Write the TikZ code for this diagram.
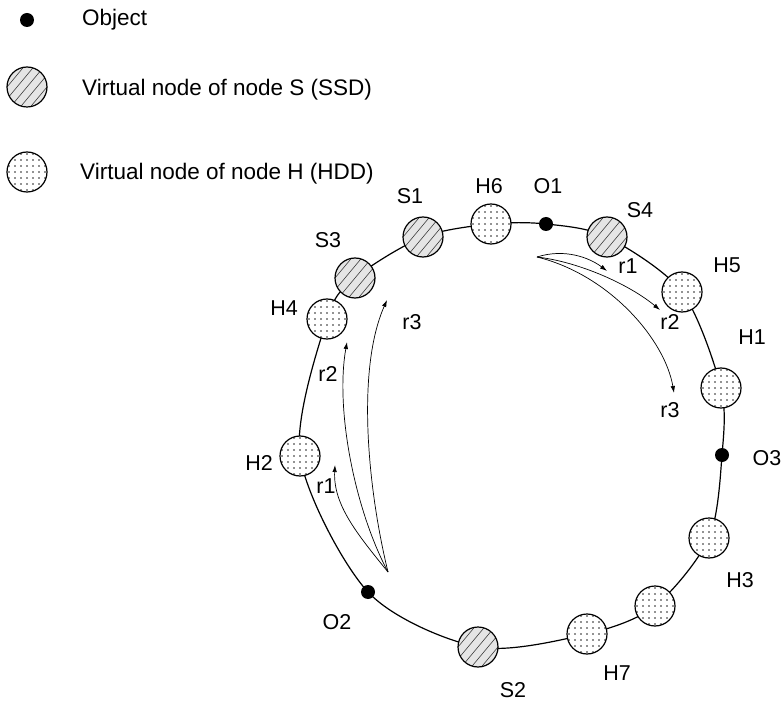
\documentclass[tikz,border=0pt]{standalone}
\usepackage{fontspec}
\setmainfont{Liberation Sans}
\usetikzlibrary{backgrounds,arrows.meta,calc}
\definecolor{ssdgray}{gray}{0.9}
\definecolor{hatchcol}{gray}{0.25}
\definecolor{dotcol}{gray}{0.15}
\begin{document}
\begin{tikzpicture}[x=1pt,y=-1pt,
  lab/.style={font=\fontsize{21.5}{25}\selectfont,inner sep=0pt},
  legtxt/.style={font=\fontsize{22.5}{26}\selectfont,inner sep=0pt,anchor=base west},
  ssd/.style={circle,draw,line width=1.2pt,fill=ssdgray,minimum size=40pt,inner sep=0pt,
    path picture={\foreach \k in {-4,...,4}{\draw[hatchcol,line width=0.6pt] ([xshift=\k*10pt]path picture bounding box.center) +(-20pt,-24pt) -- +(20pt,24pt);}}},
  hdd/.style={circle,draw,line width=1.2pt,fill=white,minimum size=40pt,inner sep=0pt,
    path picture={\foreach \i in {-4,...,4}{\foreach \j in {-4,...,4}{\fill[dotcol] ([shift={(\i*6pt,\j*6pt)}]path picture bounding box.center) circle[radius=0.85pt];}}}},
  obj/.style={circle,fill=black,minimum size=14pt,inner sep=0pt},
  ring/.style={line width=1.2pt},
  rarrow/.style={line width=0.7pt,-{Latex[length=7pt,width=4.5pt]}}
]
\useasboundingbox (0,0) rectangle (782,703);

% legend
\node[obj] (legobj) at (27,20) {};
\node[ssd] (legssd) at (27,87) {};
\node[hdd] (leghdd) at (27,172) {};
\node[legtxt] (legobjtxt) at (82,26) {Object};
\node[legtxt] (legssdtxt) at (82,96) {Virtual node of node S (SSD)};
\node[legtxt] (leghddtxt) at (80,180) {Virtual node of node H (HDD)};

% ring members
\node[hdd] (H6) at (491,224) {};
\node[obj] (O1) at (546,224) {};
\node[ssd] (S4) at (607,237) {};
\node[hdd] (H5) at (682,292) {};
\node[hdd] (H1) at (721,388) {};
\node[obj] (O3) at (722,455) {};
\node[hdd] (H3) at (709,538) {};
\node[hdd] (Hx) at (655,606) {};
\node[hdd] (H7) at (587,634) {};
\node[ssd] (S2) at (478,647) {};
\node[obj] (O2) at (368,592) {};
\node[hdd] (H2) at (300,456) {};
\node[hdd] (H4) at (327,319) {};
\node[ssd] (S3) at (355,278) {};
\node[ssd] (S1) at (423,237) {};

\begin{pgfonlayer}{background}
\draw[ring] plot[smooth cycle] coordinates {(H6.center) (O1.center) (S4.center) (H5.center) (H1.center) (O3.center) (H3.center) (Hx.center) (H7.center) (S2.center) (O2.center) (H2.center) (H4.center) (S3.center) (S1.center)};
\end{pgfonlayer}

% labels
\node[lab] (lS3) at (328,240) {S3};
\node[lab] (lS1) at (410,196) {S1};
\node[lab] (lH6) at (489,186) {H6};
\node[lab] (lO1) at (548,186) {O1};
\node[lab] (lS4) at (640,210) {S4};
\node[lab] (lH5) at (727,265) {H5};
\node[lab] (lH1) at (752,337) {H1};
\node[lab] (lO3) at (767,458) {O3};
\node[lab] (lH3) at (740,580) {H3};
\node[lab] (lH7) at (617,673) {H7};
\node[lab] (lS2) at (513,690) {S2};
\node[lab] (lO2) at (337,622) {O2};
\node[lab] (lH2) at (259,463) {H2};
\node[lab] (lH4) at (284,308) {H4};

% replica arrows from O1
\coordinate (srcR) at (537,257);
\coordinate (eR1) at (607,271);
\coordinate (eR2) at (660,310);
\coordinate (eR3) at (674,393);
\draw[rarrow] (srcR) .. controls (565,248) and (590,258) .. (eR1);
\draw[rarrow] (srcR) .. controls (580,262) and (630,285) .. (eR2);
\draw[rarrow] (srcR) .. controls (610,275) and (665,340) .. (eR3);
\node[lab] (lR1) at (628,266) {r1};
\node[lab] (lR2) at (670,322) {r2};
\node[lab] (lR3) at (670,410) {r3};

% replica arrows from O2
\coordinate (srcL) at (388,572);
\coordinate (eL1) at (335,465);
\coordinate (eL2) at (347,342);
\coordinate (eL3) at (387,300);
\draw[rarrow] (srcL) .. controls (358,535) and (333,505) .. (eL1);
\draw[rarrow] (srcL) .. controls (355,510) and (335,410) .. (eL2);
\draw[rarrow] (srcL) .. controls (368,490) and (356,370) .. (eL3);
\node[lab] (lL1) at (326,486) {r1};
\node[lab] (lL2) at (328,374) {r2};
\node[lab] (lL3) at (412,322) {r3};
\end{tikzpicture}
\end{document}
